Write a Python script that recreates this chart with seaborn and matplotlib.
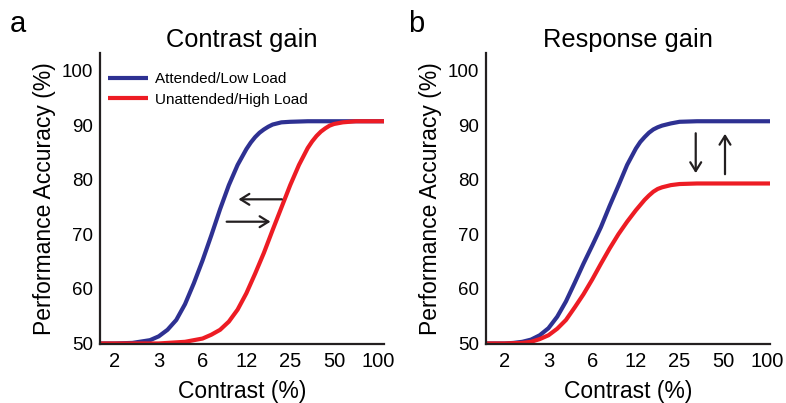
import matplotlib
matplotlib.use("Agg")
import matplotlib.pyplot as plt
import seaborn as sns
import pandas as pd

# ---------------- data ----------------
tick_labels = ["2", "3", "6", "12", "25", "50", "100"]
yticks = [50, 60, 70, 80, 90, 100]
series_names = ["Attended/Low Load", "Unattended/High Load"]

# Panel a (contrast gain): positions on the equally spaced contrast axis
a_att_x = [-0.34, 0.0, 0.4, 0.8, 1.0, 1.2, 1.4, 1.6, 1.8, 2.0, 2.2, 2.4, 2.6, 2.8,
           3.0, 3.1, 3.2, 3.3, 3.4, 3.5, 3.6, 3.7, 3.8, 4.0, 4.4, 6.14]
a_att_y = [50.0, 50.0, 50.1, 50.6, 51.3, 52.5, 54.3, 57.2, 61.0, 65.2, 69.8, 74.6, 79.0,
           82.7, 85.6, 86.8, 87.8, 88.6, 89.2, 89.7, 90.1, 90.3, 90.5, 90.6, 90.7, 90.7]
a_un_x = [-0.34, 1.0, 1.6, 2.0, 2.2, 2.4, 2.6, 2.8, 3.0, 3.2, 3.4, 3.6, 3.8, 4.0,
          4.2, 4.4, 4.5, 4.6, 4.7, 4.8, 4.9, 5.0, 5.2, 5.5, 6.14]
a_un_y = [50.0, 50.0, 50.3, 50.9, 51.6, 52.5, 54.0, 56.2, 59.2, 62.8, 66.6, 70.8, 74.9,
          79.0, 82.7, 85.8, 87.0, 88.0, 88.8, 89.4, 89.9, 90.2, 90.5, 90.7, 90.7]

# Panel b (response gain)
b_att_x = [-0.43, 0.0, 0.2, 0.4, 0.6, 0.8, 1.0, 1.2, 1.4, 1.6, 1.8, 2.0, 2.2, 2.4,
           2.6, 2.8, 3.0, 3.1, 3.2, 3.3, 3.4, 3.5, 3.6, 3.8, 4.0, 4.4, 6.07]
b_att_y = [50.0, 50.0, 50.1, 50.3, 50.7, 51.5, 52.8, 54.9, 57.7, 61.1, 64.6, 67.9, 71.3,
           75.2, 78.9, 82.7, 85.7, 86.9, 87.8, 88.6, 89.2, 89.6, 89.9, 90.3, 90.6, 90.7, 90.7]
b_un_x = [-0.43, 0.0, 0.4, 0.6, 0.8, 1.0, 1.2, 1.4, 1.6, 1.8, 2.0, 2.2, 2.4, 2.6,
          2.8, 3.0, 3.2, 3.3, 3.4, 3.5, 3.6, 3.8, 4.0, 4.4, 6.07]
b_un_y = [50.0, 50.0, 50.1, 50.3, 50.8, 51.5, 52.7, 54.3, 56.6, 59.0, 61.7, 64.6, 67.4,
          70.0, 72.3, 74.4, 76.3, 77.1, 77.8, 78.3, 78.6, 79.0, 79.2, 79.3, 79.3]

# Arrow annotations: (tail_x, tail_y, head_x, head_y)
a_arrows = [(3.81, 76.4, 2.82, 76.4), (2.55, 72.3, 3.55, 72.3)]
b_arrows = [(4.37, 88.5, 4.37, 81.2), (5.04, 81.0, 5.04, 88.4)]

titles = ["Contrast gain", "Response gain"]
panel_letters = ["a", "b"]

# ---------------- style ----------------
sns.set_theme(style="white")
plt.rcParams["font.family"] = ["Liberation Sans", "DejaVu Sans"]
plt.rcParams["text.color"] = "black"
plt.rcParams["axes.labelcolor"] = "black"
plt.rcParams["xtick.color"] = "black"
plt.rcParams["ytick.color"] = "black"

BLUE = "#2E3192"
RED = "#ED1C24"
DARK = "#231F20"
palette = {series_names[0]: BLUE, series_names[1]: RED}

fig = plt.figure(figsize=(7.86, 4.03), dpi=100)
ax_a = fig.add_axes([100 / 786, 59 / 403, 284 / 786, 291 / 403])
ax_b = fig.add_axes([486 / 786, 59 / 403, 284 / 786, 291 / 403])


def make_df(x1, y1, x2, y2):
    return pd.DataFrame({
        "x": list(x1) + list(x2),
        "y": list(y1) + list(y2),
        "cond": [series_names[0]] * len(x1) + [series_names[1]] * len(x2),
    })


df_a = make_df(a_att_x, a_att_y, a_un_x, a_un_y)
df_b = make_df(b_att_x, b_att_y, b_un_x, b_un_y)

for ax, df, xl, arrows, title, letter in [
    (ax_a, df_a, (-0.34, 6.14), a_arrows, titles[0], panel_letters[0]),
    (ax_b, df_b, (-0.43, 6.07), b_arrows, titles[1], panel_letters[1]),
]:
    sns.lineplot(data=df, x="x", y="y", hue="cond", palette=palette,
                 hue_order=series_names, estimator=None, sort=True,
                 linewidth=3.0, ax=ax, legend=(ax is ax_a))
    for ln in ax.get_lines():
        ln.set_solid_joinstyle("round")
        ln.set_solid_capstyle("butt")
    ax.set_xlim(*xl)
    ax.set_ylim(49.9, 103.2)
    ax.set_xticks(range(len(tick_labels)))
    ax.set_xticklabels(tick_labels, fontsize=14.5)
    ax.set_yticks(yticks)
    ax.set_yticklabels([str(v) for v in yticks], fontsize=13.5)
    ax.tick_params(axis="both", length=0, colors="black")
    ax.tick_params(axis="x", pad=6)
    ax.tick_params(axis="y", pad=5)
    for side in ["top", "right"]:
        ax.spines[side].set_visible(False)
    for side in ["left", "bottom"]:
        ax.spines[side].set_color(DARK)
        ax.spines[side].set_linewidth(1.6)
    ax.set_xlabel("Contrast (%)", fontsize=16.5, labelpad=6, color="black")
    ax.set_ylabel("Performance Accuracy (%)", fontsize=16.5, labelpad=4, color="black")
    ax.set_title(title, fontsize=18.3, pad=4, color="black")
    for (tx, ty, hx, hy) in arrows:
        ax.annotate("", xy=(hx, hy), xytext=(tx, ty),
                    arrowprops=dict(arrowstyle="->,head_length=0.45,head_width=0.28",
                                    color=DARK, lw=1.6, shrinkA=0, shrinkB=0,
                                    mutation_scale=14))
    pos = ax.get_position()
    fig.text(pos.x0 - 90 / 786 if letter == "a" else pos.x0 - 78 / 786,
             (403 - 32) / 403, letter, fontsize=21, ha="left", va="baseline",
             color="black")

leg = ax_a.legend(loc="upper left", bbox_to_anchor=(0.028, 0.935), frameon=False,
                  fontsize=11, handlelength=2.6, handletextpad=0.5,
                  labelspacing=0.45, borderpad=0, borderaxespad=0)
for txt in leg.get_texts():
    txt.set_color("black")
for line in leg.get_lines():
    line.set_linewidth(3.0)

fig.savefig("out.png", dpi=100)
